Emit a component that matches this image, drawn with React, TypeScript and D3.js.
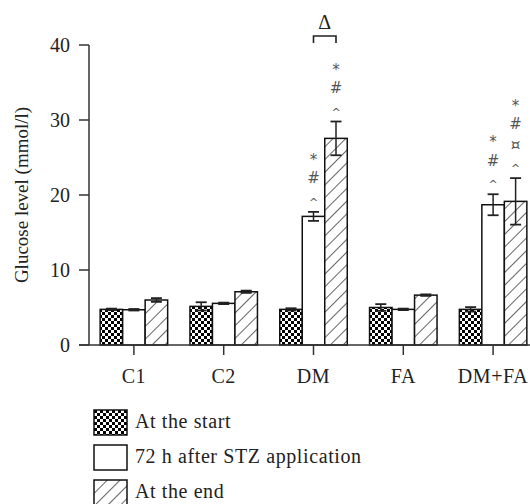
import React from "react";
import * as d3 from "d3";

const categories = ["C1", "C2", "DM", "FA", "DM+FA"];
const seriesNames = ["At the start", "72 h after STZ application", "At the end"];
const startValues = [4.75, 5.15, 4.75, 5.0, 4.75];
const startErrors = [0.1, 0.55, 0.15, 0.45, 0.3];
const after72Values = [4.7, 5.55, 17.15, 4.75, 18.7];
const after72Errors = [0.1, 0.1, 0.6, 0.1, 1.4];
const endValues = [6.0, 7.1, 27.55, 6.65, 19.15];
const endErrors = [0.25, 0.15, 2.25, 0.1, 3.1];
const yTicks = [0, 10, 20, 30, 40];
// significance marks, listed from bottom to top
const after72Marks = [[], [], ["^", "#", "*"], [], ["^", "#", "*"]];
const endMarks = [[], [], ["^", "#", "*"], [], ["^", "¤", "#", "*"]];
const bracketLabel = "Δ";

const W = 530;
const H = 504;
const FONT = "'Liberation Serif', 'Times New Roman', serif";
const MARK_FONT = "'DejaVu Sans', 'Liberation Sans', sans-serif";
const fills = ["url(#checker)", "#ffffff", "url(#hatch)"];

export default function App() {
  const y = d3.scaleLinear().domain([0, 40]).range([345, 45]);
  const x = d3.scaleBand().domain(categories).range([89, 538]).padding(0);
  const inner = d3.scaleBand().domain(["0", "1", "2"]).range([-33.75, 33.75]).padding(0);
  const series = [
    { values: startValues, errors: startErrors, marks: categories.map(() => [] as string[]) },
    { values: after72Values, errors: after72Errors, marks: after72Marks },
    { values: endValues, errors: endErrors, marks: endMarks },
  ];
  const cx = (c: string) => (x(c) as number) + x.bandwidth() / 2;
  const bw = inner.bandwidth();
  const markDy: Record<string, number> = { "^": 7, "*": 7, "#": 5, "¤": 5 };
  const markSize: Record<string, number> = { "^": 11, "*": 15, "#": 15, "¤": 15 };

  const dmX1 = cx("DM") + (inner("1") as number) + bw / 2;
  const dmX2 = cx("DM") + (inner("2") as number) + bw / 2;

  return (
    <svg width={W} height={H} style={{ position: "absolute", left: 0, top: 0, background: "#fff" }}>
      <defs>
        <pattern id="checker" width={6} height={6} patternUnits="userSpaceOnUse">
          <rect width={6} height={6} fill="#fff" />
          <rect width={3} height={3} fill="#000" />
          <rect x={3} y={3} width={3} height={3} fill="#000" />
        </pattern>
        <pattern id="hatch" width={9} height={9} patternUnits="userSpaceOnUse" patternTransform="rotate(45)">
          <rect width={9} height={9} fill="#fff" />
          <line x1={0} y1={0} x2={0} y2={9} stroke="#111" strokeWidth={1.3} />
        </pattern>
      </defs>

      {/* bars */}
      {series.map((s, si) =>
        categories.map((c, ci) => {
          const bx = cx(c) + (inner(String(si)) as number);
          const v = s.values[ci];
          const e = s.errors[ci];
          const mx = bx + bw / 2;
          const top = y(v + e);
          return (
            <g key={`${si}-${ci}`}>
              <rect x={bx} y={y(v)} width={bw} height={y(0) - y(v)} fill={fills[si]} stroke="#111" strokeWidth={1.5} />
              <line x1={mx} x2={mx} y1={y(v - e)} y2={y(v + e)} stroke="#222" strokeWidth={1.5} />
              <line x1={mx - 5.5} x2={mx + 5.5} y1={y(v + e)} y2={y(v + e)} stroke="#222" strokeWidth={1.8} />
              <line x1={mx - 5.5} x2={mx + 5.5} y1={y(v - e)} y2={y(v - e)} stroke="#222" strokeWidth={1.8} />
              {s.marks[ci].map((m, mi) => (
                <text
                  key={mi}
                  x={mx}
                  y={top - 13 - mi * 20.5 + (markDy[m] ?? 5)}
                  textAnchor="middle"
                  fontFamily={MARK_FONT}
                  fontSize={markSize[m] ?? 15}
                  fill="#555"
                >
                  {m}
                </text>
              ))}
            </g>
          );
        })
      )}

      {/* y axis */}
      <line x1={89} x2={89} y1={y(40)} y2={y(0)} stroke="#333" strokeWidth={1.5} />
      {yTicks.map((t) => (
        <g key={t}>
          <line x1={79} x2={89} y1={y(t)} y2={y(t)} stroke="#333" strokeWidth={1.5} />
          <text x={70} y={y(t) + 6.5} textAnchor="end" fontFamily={FONT} fontSize={20} fill="#222">
            {t}
          </text>
        </g>
      ))}
      <text
        transform={`translate(28,195) rotate(-90)`}
        textAnchor="middle"
        fontFamily={FONT}
        fontSize={19}
        fill="#222"
      >
        Glucose level (mmol/l)
      </text>

      {/* x axis */}
      <line x1={79} x2={540} y1={y(0)} y2={y(0)} stroke="#333" strokeWidth={1.5} />
      {categories.map((c) => (
        <g key={c}>
          <line x1={cx(c)} x2={cx(c)} y1={y(0)} y2={y(0) + 10} stroke="#333" strokeWidth={1.5} />
          <text x={cx(c)} y={383} textAnchor="middle" fontFamily={FONT} fontSize={20} letterSpacing={0.6} fill="#222">
            {c}
          </text>
        </g>
      ))}

      {/* bracket */}
      <path
        d={`M${dmX1},${43} V${36} H${dmX2} V${43}`}
        fill="none"
        stroke="#222"
        strokeWidth={1.6}
      />
      <text x={(dmX1 + dmX2) / 2} y={29} textAnchor="middle" fontFamily={FONT} fontSize={20} fill="#222">
        {bracketLabel}
      </text>

      {/* legend */}
      {seriesNames.map((n, i) => (
        <g key={n} transform={`translate(94, ${410 + i * 35})`}>
          <rect x={0} y={0} width={33} height={25} fill={fills[i]} stroke="#111" strokeWidth={1.5} />
          <text x={41} y={18} fontFamily={FONT} fontSize={20} letterSpacing={0.6} fill="#222">
            {n}
          </text>
        </g>
      ))}
    </svg>
  );
}
